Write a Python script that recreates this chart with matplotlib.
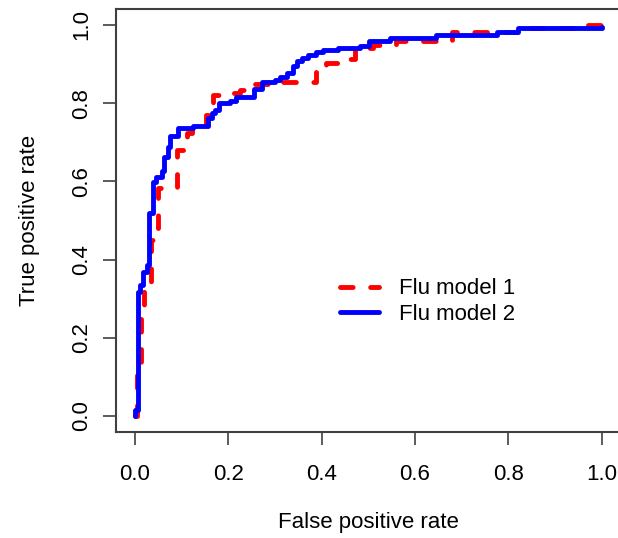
import numpy as np
import matplotlib
matplotlib.use("Agg")
import matplotlib.pyplot as plt

# ROC curve for model 1
fpr1 = [0.0, 0.005, 0.012, 0.020, 0.034, 0.039, 0.050, 0.089, 0.111, 0.122,
        0.152, 0.168, 0.200, 0.225, 0.250, 0.300, 0.389, 0.410, 0.440, 0.471,
        0.510, 0.560, 0.680, 0.820, 0.970, 1.0]
tpr1 = [0.0, 0.13, 0.263, 0.335, 0.45, 0.481, 0.583, 0.68, 0.724, 0.742,
        0.770, 0.821, 0.827, 0.834, 0.849, 0.855, 0.881, 0.904, 0.912, 0.942,
        0.950, 0.959, 0.983, 0.992, 1.0, 1.0]

# ROC curve for model 2
fpr2 = [0.0, 0.0, 0.006, 0.011, 0.018, 0.025, 0.031, 0.038, 0.046, 0.057,
        0.063, 0.070, 0.075, 0.093, 0.124, 0.157, 0.164, 0.171, 0.181, 0.204,
        0.216, 0.255, 0.273, 0.300, 0.311, 0.325, 0.338, 0.348, 0.359, 0.371,
        0.389, 0.402, 0.436, 0.482, 0.502, 0.546, 0.646, 0.775, 0.821, 1.0]
tpr2 = [0.0, 0.015, 0.318, 0.335, 0.369, 0.386, 0.518, 0.599, 0.612, 0.627,
        0.663, 0.689, 0.716, 0.736, 0.742, 0.761, 0.774, 0.783, 0.800, 0.806,
        0.817, 0.836, 0.853, 0.859, 0.868, 0.876, 0.896, 0.908, 0.916, 0.923,
        0.930, 0.936, 0.940, 0.947, 0.959, 0.966, 0.974, 0.983, 0.992, 0.996]

labels = ["Flu model 1", "Flu model 2"]
ticks = [0.0, 0.2, 0.4, 0.6, 0.8, 1.0]

plt.rcParams["font.family"] = ["Liberation Sans", "DejaVu Sans"]
edge = "#404040"
fs = 16

fig = plt.figure(figsize=(6.18, 5.38), dpi=100)
ax = fig.add_axes([0.1882, 0.1978, 0.8155, 0.7848])

ax.step(fpr1, tpr1, where="post", color="#FF0000", lw=3.5,
        linestyle=(0, (2.6, 3.6)), dash_capstyle="round", label=labels[0])
ax.step(fpr2, tpr2, where="post", color="#0000FF", lw=3.5,
        solid_capstyle="round", label=labels[1])

ax.set_xlim(-0.04, 1.04)
ax.set_ylim(-0.04, 1.04)
ax.set_xticks(ticks)
ax.set_yticks(ticks)
ax.set_xticklabels([f"{t:.1f}" for t in ticks])
ax.set_yticklabels([f"{t:.1f}" for t in ticks], rotation=90, va="center")
ax.tick_params(axis="both", length=9.5, width=1.2, color=edge, labelsize=fs)
ax.tick_params(axis="x", pad=14)
ax.tick_params(axis="y", pad=8)

for s in ax.spines.values():
    s.set_color(edge)
    s.set_linewidth(1.5)

ax.set_xlabel("False positive rate", fontsize=fs, labelpad=19)
ax.set_ylabel("True positive rate", fontsize=fs, labelpad=22)

ax.legend(loc="center left", bbox_to_anchor=(0.444, 0.308), frameon=False,
          fontsize=fs, handlelength=1.75, handletextpad=0.9,
          labelspacing=0.2, borderpad=0, borderaxespad=0)

fig.savefig("out.png", dpi=100)
